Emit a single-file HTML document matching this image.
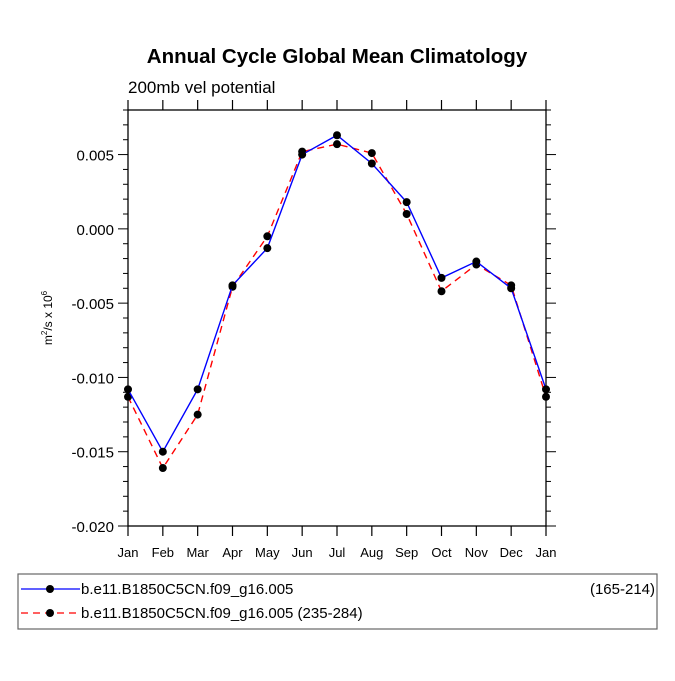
<!DOCTYPE html>
<html><head><meta charset="utf-8"><style>
body{margin:0;background:#fff;}
svg text{font-family:"Liberation Sans",sans-serif;}
</style></head><body>
<svg id="c" width="675" height="676" xmlns="http://www.w3.org/2000/svg">
<text x="337" y="63" text-anchor="middle" font-size="20.5" font-weight="bold">Annual Cycle Global Mean Climatology</text>
<text x="128" y="93" font-size="17">200mb vel potential</text>
<text transform="translate(52,318) rotate(-90)" text-anchor="middle" font-size="12">m<tspan dy="-5" font-size="8">2</tspan><tspan dy="5">/s x 10</tspan><tspan dy="-5" font-size="8">6</tspan></text>
<g id="axes"></g>
<g id="series"></g>
<rect x="18" y="574" width="639" height="55" fill="none" stroke="#666" stroke-width="1.2"/>
<g>
<line x1="21" y1="589" x2="80" y2="589" stroke="#0000ff" stroke-width="1.3"/>
<circle cx="50" cy="589" r="4" fill="#000"/>
<text x="81" y="594" font-size="15">b.e11.B1850C5CN.f09_g16.005</text>
<text x="655" y="594" font-size="15" text-anchor="end">(165-214)</text>
</g>
<g>
<line x1="21" y1="613" x2="80" y2="613" stroke="#ff0000" stroke-width="1.3" stroke-dasharray="7,5"/>
<circle cx="50" cy="613" r="4" fill="#000"/>
<text x="81" y="618" font-size="15">b.e11.B1850C5CN.f09_g16.005 (235-284)</text>
</g>
</svg>
<script>
const months=["Jan","Feb","Mar","Apr","May","Jun","Jul","Aug","Sep","Oct","Nov","Dec","Jan"];
const seriesA=[-0.0108,-0.0150,-0.0108,-0.0038,-0.0013,0.0050,0.0063,0.0044,0.0018,-0.0033,-0.0022,-0.0040,-0.0108];
const seriesB=[-0.0113,-0.0161,-0.0125,-0.0039,-0.0005,0.0052,0.0057,0.0051,0.0010,-0.0042,-0.0024,-0.0038,-0.0113];
const yTicks=[0.005,0.000,-0.005,-0.010,-0.015,-0.020];
const yTickLabels=["0.005","0.000","-0.005","-0.010","-0.015","-0.020"];
const L=128,R=546,T=110,B=526,yMin=-0.020,yMax=0.008;
const NS="http://www.w3.org/2000/svg";
function X(i){return L+(R-L)*i/(months.length-1);}
function Y(v){return B-(v-yMin)/(yMax-yMin)*(B-T);}
function mk(t,a,p){const e=document.createElementNS(NS,t);for(const k in a)e.setAttribute(k,a[k]);p.appendChild(e);return e;}
const ax=document.getElementById('axes');
const fr=mk('rect',{x:L,y:T,width:R-L,height:B-T,fill:'none',stroke:'#000','stroke-width':1.3},ax);


months.forEach((m,i)=>{
  const x=X(i);
  mk('line',{x1:x,y1:B,x2:x,y2:B+10,stroke:'#000','stroke-width':1.2},ax);
  mk('line',{x1:x,y1:T,x2:x,y2:T-10,stroke:'#000','stroke-width':1.2},ax);
  const t=mk('text',{x:x,y:B+31,'text-anchor':'middle','font-size':13},ax);
  t.textContent=m;
  
  
});
for(let k=0;k<=28;k++){
  const v=yMin+k*0.001;const y=Y(v);
  const major=k%5==0;const len=major?10:5;
  mk('line',{x1:L,y1:y,x2:L-len,y2:y,stroke:'#000','stroke-width':1},ax);
  mk('line',{x1:R,y1:y,x2:R+len,y2:y,stroke:'#000','stroke-width':1},ax);
}
yTicks.forEach((v,i)=>{
  const t=mk('text',{x:L-14,y:Y(v)+6,'text-anchor':'end','font-size':15},ax);
  t.textContent=yTickLabels[i];
  
  
});
const sg=document.getElementById('series');
function draw(data,color,dash,name){
  const g=mk('g',{},sg);
  
  
  const pts=data.map((v,i)=>X(i)+','+Y(v)).join(' ');
  const a={points:pts,fill:'none',stroke:color,'stroke-width':1.4};
  if(dash)a['stroke-dasharray']=dash;
  mk('polyline',a,g);
  data.forEach((v,i)=>{
    const c=mk('circle',{cx:X(i),cy:Y(v),r:4,fill:'#000'},g);
    
    
  });
}
draw(seriesB,'#ff0000','7,5','series-235-284');
draw(seriesA,'#0000ff',null,'series-165-214');
</script>
</body></html>
